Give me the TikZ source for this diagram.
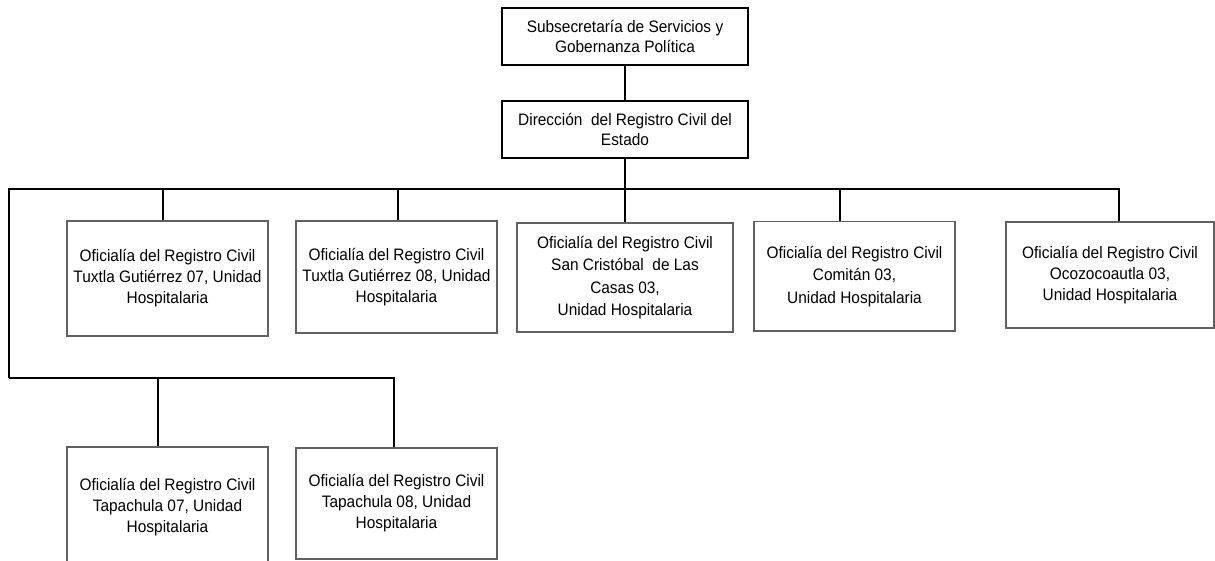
\documentclass[tikz,border=0pt]{standalone}
\usepackage{fontspec}
\setmainfont{Liberation Sans}[FakeStretch=0.93]
\begin{document}
\begin{tikzpicture}[x=1pt,y=-1pt,
  topbox/.style={draw=black,line width=1.8pt,align=center,inner sep=0pt,font=\fontsize{16.6}{20.5}\selectfont},
  unitbox/.style={draw=black!62,line width=1.6pt,align=center,inner sep=0pt,font=\fontsize{16.6}{21}\selectfont},
  link/.style={draw=black,line width=1.8pt}]
\useasboundingbox (0,0) rectangle (1215,561);
\clip (0,0) rectangle (1215,561);
\node[topbox,minimum width=246pt,minimum height=57pt] (sub) at (625,36.5) {Subsecretaría de Servicios y\\Gobernanza Política};
\node[topbox,minimum width=246pt,minimum height=57pt] (dir) at (625,129.5) {Dirección\ \ del Registro Civil del\\Estado};
\node[unitbox,minimum width=201pt,minimum height=115pt] (u1) at (167.5,278.5) {Oficialía del Registro Civil\\Tuxtla Gutiérrez 07, Unidad\\Hospitalaria};
\node[unitbox,minimum width=201pt,minimum height=112pt] (u2) at (396.5,277) {Oficialía del Registro Civil\\Tuxtla Gutiérrez 08, Unidad\\Hospitalaria};
\node[unitbox,minimum width=216pt,minimum height=109pt,font=\fontsize{16.6}{22.3}\selectfont] (u3) at (625,277.5) {Oficialía del Registro Civil\\San Cristóbal\ \ de Las\\Casas 03,\\Unidad Hospitalaria};
\node[unitbox,minimum width=201pt,minimum height=109pt,font=\fontsize{16.6}{22.5}\selectfont] (u4) at (854.5,276.2) {Oficialía del Registro Civil\\Comitán 03,\\Unidad Hospitalaria};
\node[unitbox,minimum width=208pt,minimum height=106pt] (u5) at (1110,275) {Oficialía del Registro Civil\\Ocozocoautla 03,\\Unidad Hospitalaria};
\node[unitbox,minimum width=201pt,minimum height=120pt] (u6) at (167.5,507) {Oficialía del Registro Civil\\Tapachula 07, Unidad\\Hospitalaria};
\node[unitbox,minimum width=201pt,minimum height=111pt] (u7) at (396.5,503.5) {Oficialía del Registro Civil\\Tapachula 08, Unidad\\Hospitalaria};
\coordinate (busL) at (9,189);
\coordinate (busR) at (1119,189);
\coordinate (lowL) at (9,378);
\draw[link] (sub.south) -- (dir.north);
\draw[link] (dir.south) -- (625,189);
\draw[link] (lowL) -- (busL) -- (busR) -- (u5.north -| busR);
\draw[link] (163,189) -- (u1.north -| 163,0);
\draw[link] (398,189) -- (u2.north -| 398,0);
\draw[link] (625,189) -- (u3.north);
\draw[link] (840,189) -- (u4.north -| 840,0);
\draw[link] (lowL) -- (394,378) -- (u7.north -| 394,0);
\draw[link] (158,378) -- (u6.north -| 158,0);
\end{tikzpicture}
\end{document}
